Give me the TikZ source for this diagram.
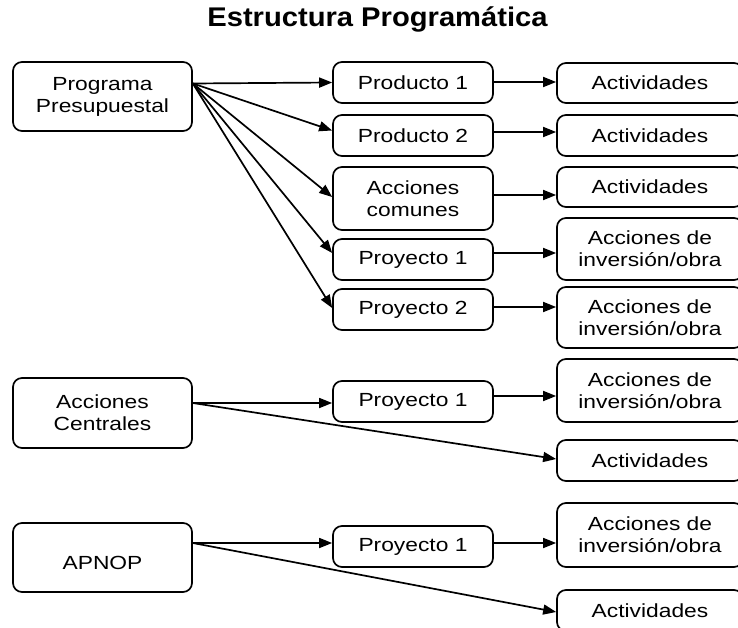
\documentclass[tikz,border=0pt]{standalone}
\usepackage{fontspec}
\setmainfont{Liberation Sans}[FakeStretch=1.2]
\newfontfamily\titlefont{Liberation Sans}[FakeStretch=1.08]
\usetikzlibrary{arrows.meta}
\begin{document}
\begin{tikzpicture}[x=1pt,y=-1pt,
  box/.style={draw,line width=1.7pt,rounded corners=9pt,inner sep=0pt,align=center,
    font=\fontsize{19}{22}\selectfont},
  big/.style={box,minimum width=179pt,minimum height=69pt},
  mid/.style={box,minimum width=160pt,minimum height=41pt},
  rt/.style={box,minimum width=186pt,minimum height=41pt},
  conn/.style={line width=1.7pt,-{Triangle[length=13pt,width=10pt]}}]
\useasboundingbox (0,0) rectangle (738,628);
\node[anchor=base,font=\titlefont\fontsize{27}{30}\selectfont\bfseries] (title) at (377.5,27) {Estructura Programática};
% left column
\node[big] (pp) at (102.5,96.5) {Programa\\Presupuestal};
\node[big,minimum height=70pt] (acn) at (102.5,413) {Acciones\\Centrales};
\node[big] (apnop) at (102.5,557.5) {\mbox{}\\[3pt]APNOP};
% middle column
\node[mid] (p1) at (413,82.5) {Producto 1};
\node[mid] (p2) at (413,135.5) {Producto 2};
\node[mid,minimum height=63pt] (ac) at (413,198.5) {Acciones\\comunes};
\node[mid] (pr1) at (413,259.5) {Proyecto 1};
\node[mid] (pr2) at (413,309.5) {Proyecto 2};
\node[mid] (pj3) at (413,401.5) {Proyecto 1};
\node[mid] (pj4) at (413,546.5) {Proyecto 1};
% right column
\node[rt,minimum height=40pt] (a1) at (650,83) {Actividades};
\node[rt] (a2) at (650,135.5) {Actividades};
\node[rt,minimum height=40pt] (a3) at (650,187) {Actividades};
\node[rt,minimum height=62pt] (ai1) at (650,249) {Acciones de\\inversión/obra};
\node[rt,minimum height=61pt] (ai2) at (650,317.5) {Acciones de\\inversión/obra};
\node[rt,minimum height=63pt] (ai3) at (650,390.5) {Acciones de\\inversión/obra};
\node[rt] (act4) at (650,460.5) {Actividades};
\node[rt,minimum height=64pt] (ai4) at (650,535) {Acciones de\\inversión/obra};
\node[rt] (act5) at (650,610.5) {Actividades};
% connection points
\coordinate (ppo) at ([yshift=13pt]pp.east);
\coordinate (acno) at ([yshift=10pt]acn.east);
\coordinate (apo) at ([yshift=14.5pt]apnop.east);
% fan from Programa Presupuestal
\draw[conn] (ppo) -- (p1.west);
\draw[conn] (ppo) -- ([yshift=5pt]p2.west);
\draw[conn] (ppo) -- ([yshift=1.5pt]ac.west);
\draw[conn] (ppo) -- ([yshift=6.5pt]pr1.west);
\draw[conn] (ppo) -- ([yshift=1.5pt]pr2.west);
% middle to right
\coordinate (p1e) at ([yshift=0.5pt]p1.east);
\coordinate (p2e) at ([yshift=3.5pt]p2.east);
\coordinate (ace) at ([yshift=3.5pt]ac.east);
\coordinate (pr1e) at ([yshift=6.5pt]pr1.east);
\coordinate (pr2e) at ([yshift=2.5pt]pr2.east);
\coordinate (pj3e) at ([yshift=5.5pt]pj3.east);
\coordinate (pj4e) at ([yshift=3.5pt]pj4.east);
\draw[conn] (p1e) -- (p1e -| a1.west);
\draw[conn] (p2e) -- (p2e -| a2.west);
\draw[conn] (ace) -- (ace -| a3.west);
\draw[conn] (pr1e) -- (pr1e -| ai1.west);
\draw[conn] (pr2e) -- (pr2e -| ai2.west);
\draw[conn] (pj3e) -- (pj3e -| ai3.west);
\draw[conn] (pj4e) -- (pj4e -| ai4.west);
% Acciones Centrales
\draw[conn] (acno) -- (acno -| pj3.west);
\draw[conn] (acno) -- ([yshift=1.5pt]act4.west);
% APNOP
\draw[conn] (apo) -- (apo -| pj4.west);
\draw[conn] (apo) -- ([yshift=-1.5pt]act5.west);
\end{tikzpicture}
\end{document}
